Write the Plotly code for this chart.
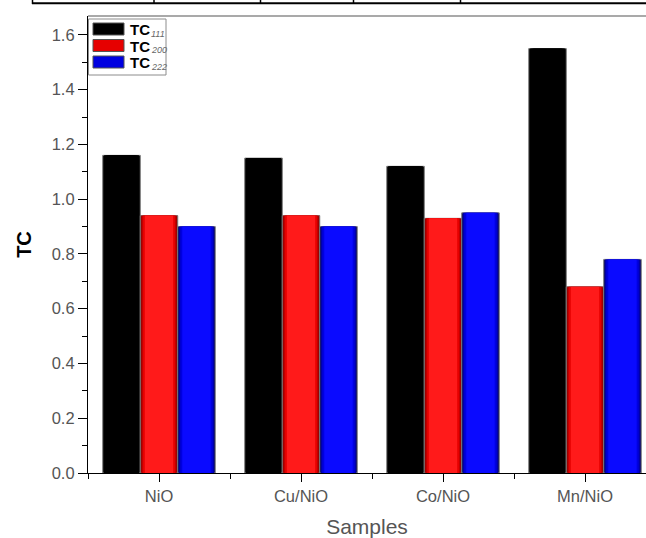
import plotly.graph_objects as go

# Texture coefficients per sample
samples = ["NiO", "Cu/NiO", "Co/NiO", "Mn/NiO"]
tc_111 = [1.16, 1.15, 1.12, 1.55]
tc_200 = [0.94, 0.94, 0.93, 0.68]
tc_222 = [0.90, 0.90, 0.95, 0.78]

series = [
    ("111", tc_111, ["#000000", "#000000", "#000000", "#000000"]),
    ("200", tc_200, ["#7a0000", "#b80000", "#e60000", "#ff1a1a"]),
    ("222", tc_222, ["#000060", "#0000a8", "#0000e0", "#0a0aff"]),
]

W, H = 646, 538
ML, MR, MT, MB = 88, 0, 16, 65
PW, PH = W - ML - MR, H - MT - MB
FONT = "Liberation Sans, Arial, sans-serif"

x_pos = list(range(len(samples)))
bar_w = 0.264
group_w = 3 * bar_w
insets = [0.0, 0.008, 0.018, 0.032]  # shading layers, outer to inner

fig = go.Figure()
for k, (name, vals, shades) in enumerate(series):
    off = -group_w / 2 + k * bar_w
    for j, (inset, col) in enumerate(zip(insets, shades)):
        fig.add_trace(go.Bar(
            x=x_pos, y=vals,
            width=bar_w - 2 * inset, offset=off + inset,
            marker=dict(color=col,
                        line=dict(color="#7a7a7a" if j == 0 else col,
                                  width=1 if j == 0 else 0)),
            name="TC" + name, showlegend=False, hoverinfo="y",
        ))

fig.update_layout(
    width=W, height=H, barmode="overlay",
    margin=dict(l=ML, r=MR, t=MT, b=MB),
    paper_bgcolor="white", plot_bgcolor="white",
    font=dict(family=FONT, color="#555555"),
    showlegend=False,
)

fig.update_xaxes(
    automargin=False,
    range=[-0.5, -0.5 + PW / 142.0],
    tickvals=x_pos, ticktext=samples,
    showgrid=False, zeroline=False,
    showline=True, linecolor="#000000", linewidth=1.2,
    ticks="outside", ticklen=8, tickcolor="#000000", tickwidth=1.2,
    tickfont=dict(size=16.5, color="#555555"),
    minor=dict(tick0=-0.5, dtick=1, ticks="outside", ticklen=5,
               tickcolor="#000000", tickwidth=1.2, showgrid=False),
    title=dict(text="Samples", font=dict(size=21, color="#555555"), standoff=23),
)

fig.update_yaxes(
    automargin=False,
    range=[0, 1.669],
    dtick=0.2, tick0=0, tickformat=".1f",
    showgrid=False, zeroline=False,
    showline=True, linecolor="#000000", linewidth=1.2,
    ticks="outside", ticklen=9, tickcolor="#000000", tickwidth=1.2,
    tickfont=dict(size=16.5, color="#555555"),
    minor=dict(dtick=0.1, ticks="outside", ticklen=5,
               tickcolor="#000000", tickwidth=1.2, showgrid=False),
    title=dict(text="TC", font=dict(size=20, color="#000000", weight="bold"), standoff=14),
)


def px_x(p):
    return (p - ML) / PW


def px_y(p):
    return 1 - (p - MT) / PH


shapes = []
# top frame of the plot area
shapes.append(dict(type="line", xref="paper", yref="paper", x0=0, x1=1, y0=1, y1=1,
                   line=dict(color="#8c8c8c", width=1.5)))

# table rule above the figure
shapes.append(dict(type="line", xref="paper", yref="paper",
                   x0=px_x(32), x1=px_x(646), y0=px_y(3.3), y1=px_y(3.3),
                   line=dict(color="#000000", width=2)))
for vx in [32.5, 154, 260.5, 353.5, 460.5]:
    shapes.append(dict(type="line", xref="paper", yref="paper",
                       x0=px_x(vx), x1=px_x(vx), y0=px_y(0), y1=px_y(4),
                       line=dict(color="#000000", width=1.5)))

# legend box with wide swatches
shapes.append(dict(type="rect", xref="paper", yref="paper",
                   x0=px_x(88.5), x1=px_x(166), y0=px_y(19), y1=px_y(75),
                   line=dict(color="#8c8c8c", width=1), fillcolor="white"))
annotations = []
sw_top = [23, 39.5, 56]
for (name, vals, shades), top in zip(series, sw_top):
    shapes.append(dict(type="rect", xref="paper", yref="paper",
                       x0=px_x(93), x1=px_x(124), y0=px_y(top), y1=px_y(top + 12),
                       line=dict(color="#555555", width=1), fillcolor=shades[2]))
    annotations.append(dict(
        xref="paper", yref="paper", x=px_x(128), y=px_y(top + 6.5),
        xanchor="left", yanchor="middle", showarrow=False,
        text="TC",
        font=dict(size=15, color="#000000", family=FONT, weight="bold"),
    ))
    annotations.append(dict(
        xref="paper", yref="paper", x=px_x(149), y=px_y(top + 11),
        xanchor="left", yanchor="middle", showarrow=False,
        text=name,
        font=dict(size=9, color="#666666", family=FONT, style="italic"),
    ))

fig.update_layout(shapes=shapes, annotations=annotations)

fig.write_html("out.html")
